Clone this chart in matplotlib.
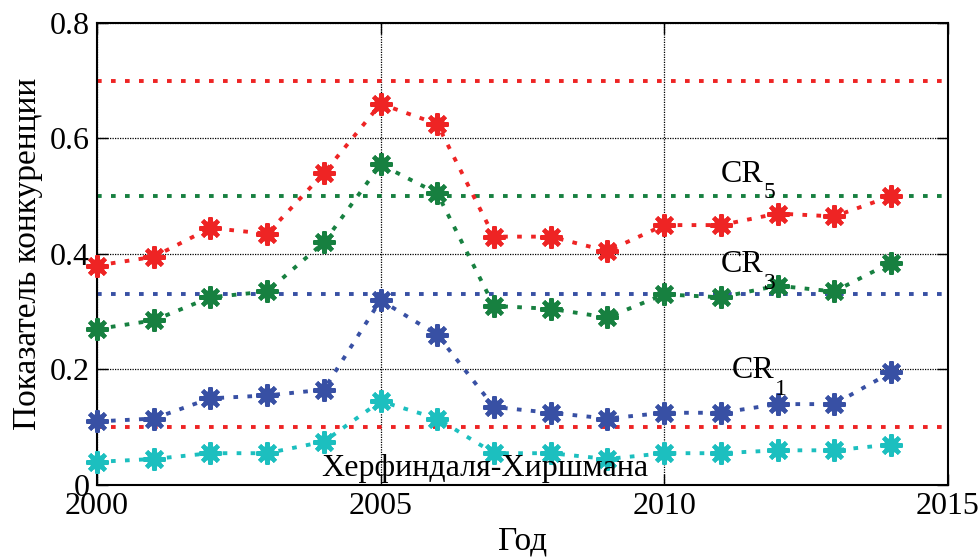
import numpy as np
import matplotlib.pyplot as plt

plt.rcParams['font.family'] = ['Liberation Serif', 'DejaVu Serif']

years = np.arange(2000, 2015)
cr5 = [0.38, 0.395, 0.445, 0.435, 0.54, 0.66, 0.625, 0.43, 0.43, 0.405, 0.45, 0.45, 0.47, 0.465, 0.5]
cr3 = [0.27, 0.285, 0.325, 0.335, 0.42, 0.555, 0.505, 0.31, 0.305, 0.29, 0.33, 0.325, 0.345, 0.335, 0.385]
cr1 = [0.11, 0.115, 0.15, 0.155, 0.165, 0.32, 0.26, 0.135, 0.125, 0.115, 0.125, 0.125, 0.14, 0.14, 0.195]
hhi = [0.04, 0.045, 0.055, 0.055, 0.075, 0.145, 0.115, 0.055, 0.055, 0.045, 0.055, 0.055, 0.06, 0.06, 0.07]

# threshold levels
thresholds = [(0.7, 'red'), (0.5, 'green'), (0.33, 'blue'), (0.1, 'red')]

colors = {'red': '#ee2424', 'green': '#178040', 'blue': '#3850a4', 'cyan': '#1cbfbf'}

fig = plt.figure(figsize=(9.8, 5.6), dpi=100)
ax = fig.add_axes([0.099, 0.134, 0.868, 0.825])

dots = (1.2, 2.4)
for lvl, c in thresholds:
    ax.axhline(lvl, color=colors[c], lw=2.8, dashes=dots, zorder=2)

for vals, c in [(cr5, 'red'), (cr3, 'green'), (cr1, 'blue'), (hhi, 'cyan')]:
    ax.plot(years, vals, color=colors[c], lw=2.8, dashes=dots, zorder=3)
    ax.plot(years, vals, ls='none', marker='o', ms=10, color=colors[c], zorder=4, clip_on=False)
    ax.plot(years, vals, ls='none', marker=(8, 2, 0), ms=16, mew=3,
            color=colors[c], zorder=4, clip_on=False)

# CR labels with big, low subscripts
for x, y, sub in [(2011.0, 0.525, '5'), (2011.0, 0.369, '3'), (2011.19, 0.185, '1')]:
    ax.text(x, y, 'CR', fontsize=23, zorder=5)
    ax.annotate(sub, xy=(x, y), xytext=(31, -12), textcoords='offset points',
                fontsize=17, zorder=5)
ax.text(2003.95, 0.016, 'Херфиндаля-Хиршмана', fontsize=23, zorder=5)

ax.set_xlim(2000, 2015)
ax.set_ylim(0, 0.8)
ax.set_xticks([2000, 2005, 2010, 2015])
ax.set_yticks([0, 0.2, 0.4, 0.6, 0.8])
ax.set_yticklabels(['0', '0.2', '0.4', '0.6', '0.8'])
ax.tick_params(direction='in', top=True, right=True, labelsize=23, length=8, width=1, pad=5)
ax.grid(True, color='black', ls=(0, (1, 1)), lw=0.9)
for s in ax.spines.values():
    s.set_linewidth(1.5)

ax.set_xlabel('Год', fontsize=24, labelpad=4)
ax.set_ylabel('Показатель конкуренции', fontsize=24, labelpad=5)

fig.savefig('out.png', dpi=100)
